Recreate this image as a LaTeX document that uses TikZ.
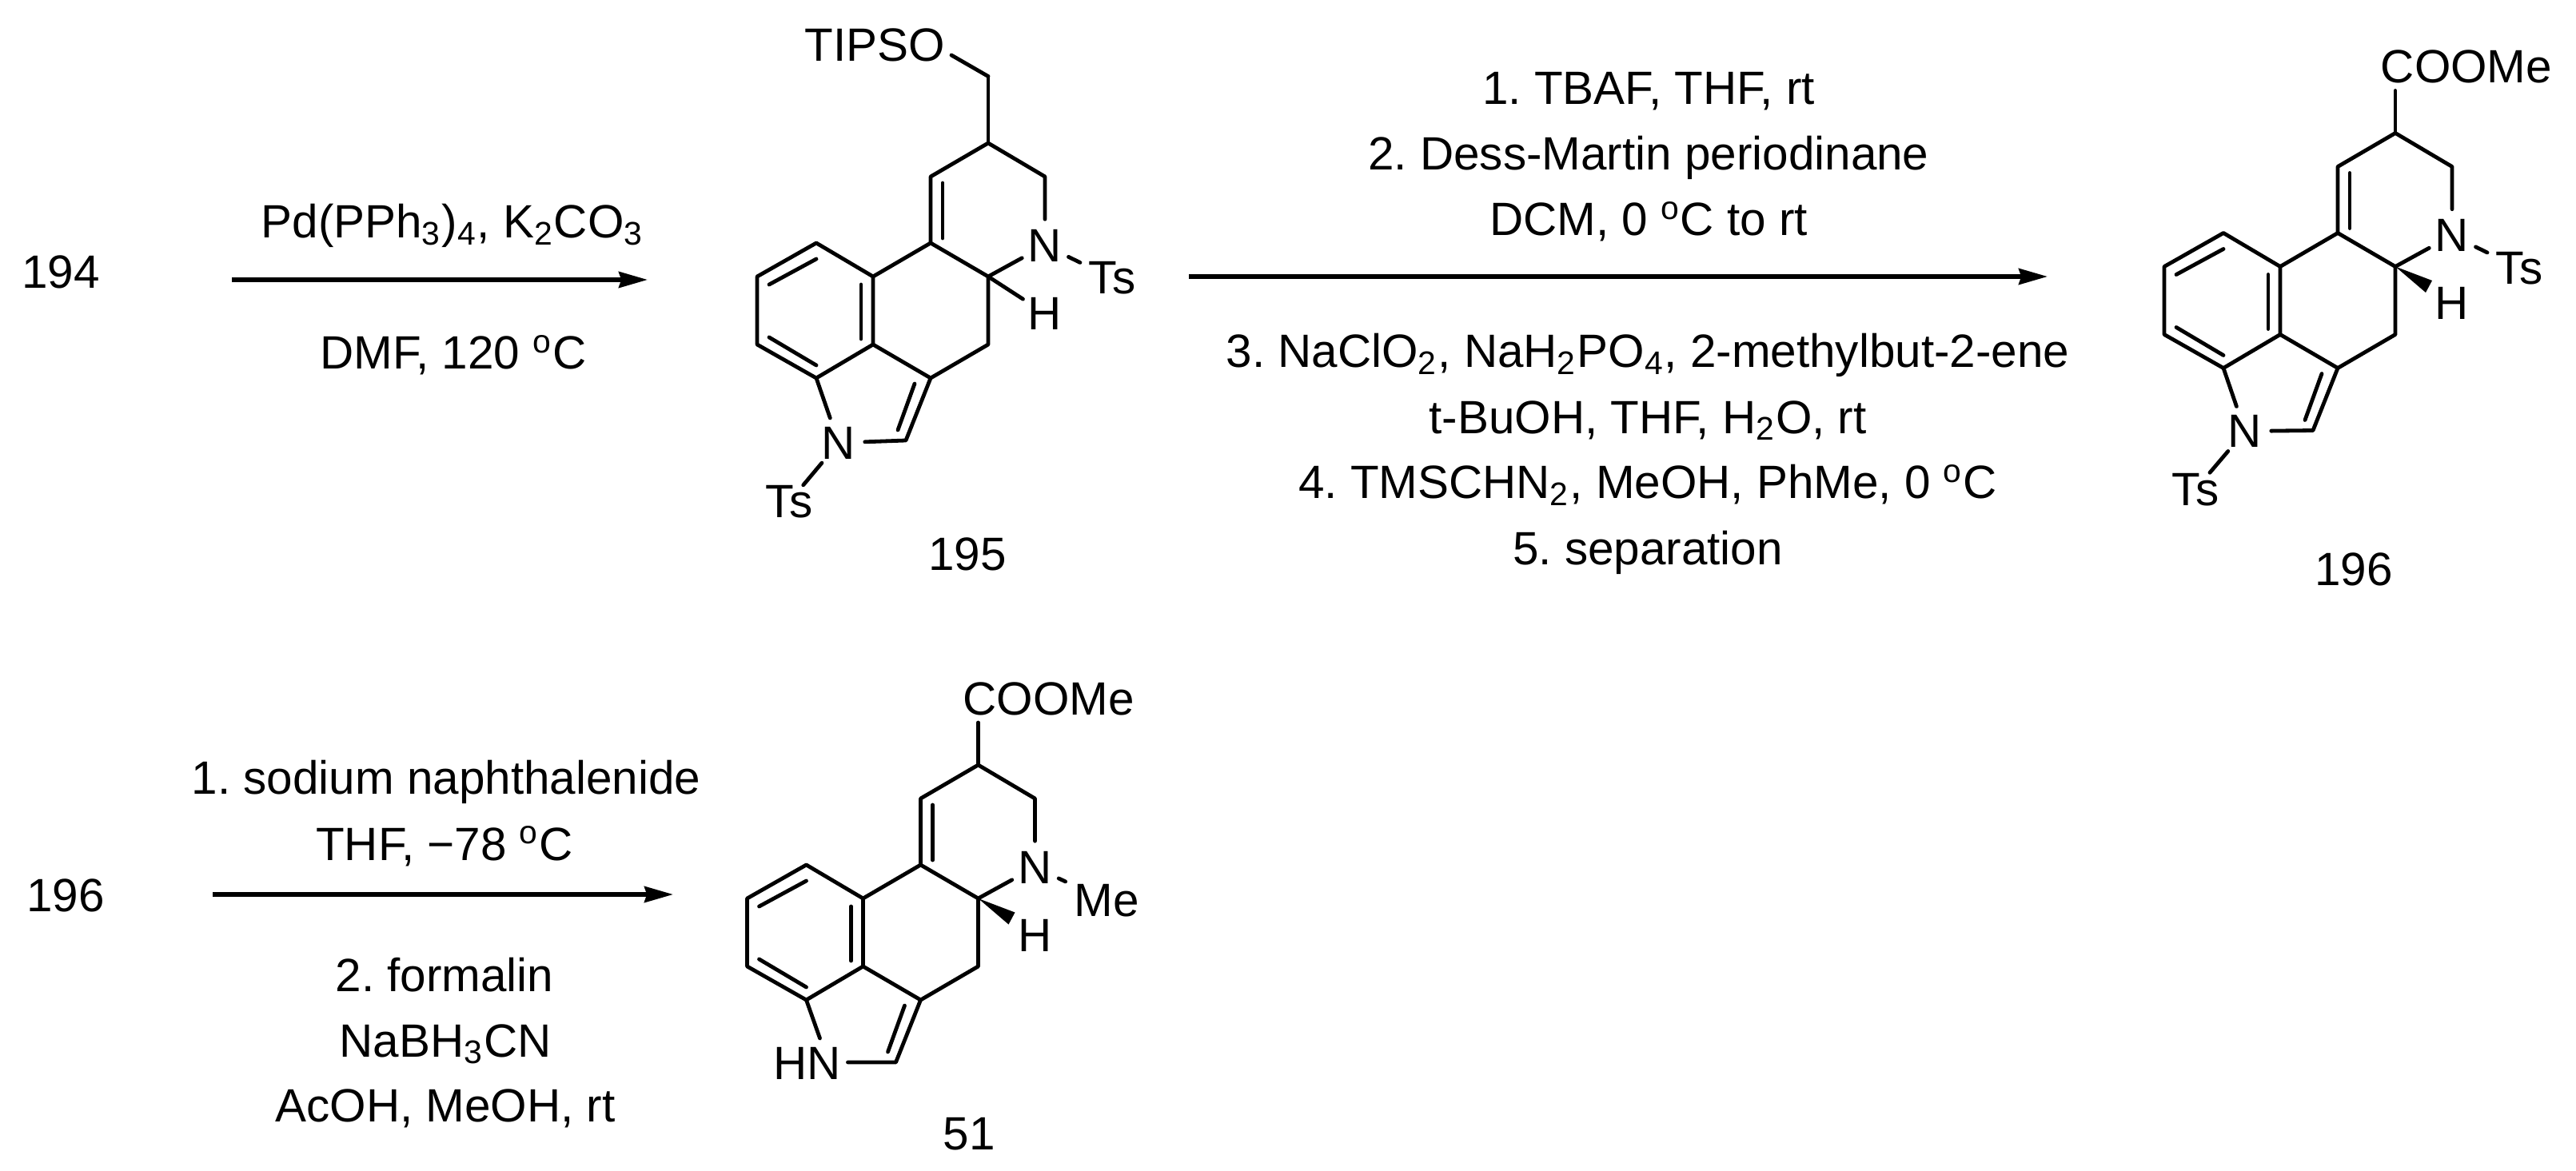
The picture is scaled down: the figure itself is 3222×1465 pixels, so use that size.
\documentclass[tikz,border=0pt]{standalone}
\usepackage{fontspec}
\setmainfont{Liberation Sans}
\usetikzlibrary{arrows.meta}
\newcommand{\sbs}[1]{\textsubscript{#1}}
\newcommand{\dg}{\textsuperscript{o}}
\newcommand{\chem}{\fontsize{14.6}{17}\selectfont\frenchspacing}
\tikzset{
  x=.25pt,y=-.25pt,
  bond/.style={line width=1.2pt,line cap=round,line join=round},
  atom/.style={circle,inner sep=0pt,minimum size=16pt,font=\chem},
  lab/.style={inner sep=0pt,font=\chem},
  txt/.style={inner sep=0pt,font=\chem,anchor=base},
  ts/.style={inner sep=2.5pt,font=\chem},
  rxn/.style={line width=1.3pt,-{Stealth[length=9pt,width=5pt,inset=.8pt]}},
}
% #1 prefix
\newcommand{\skel}[1]{%
  \coordinate (#1k) at (0,0);
  \coordinate (#1g) at (-72,-42);
  \coordinate (#1h) at (-72,-125);
  \coordinate (#1i) at (0,-167);
  \coordinate (#1j) at (71,-125);
  \node[atom] (#1N) at (71,-39) {N};
  \coordinate (#1l) at (0,85);
  \coordinate (#1m) at (-72,127);
  \coordinate (#1f) at (-144,0);
  \coordinate (#1e) at (-144,85);
  \coordinate (#1a) at (-215,-42);
  \coordinate (#1b) at (-289,0);
  \coordinate (#1c) at (-289,85);
  \coordinate (#1d) at (-215,127);
  \coordinate (#1n) at (-103,205);
  \coordinate (#1p1) at (-215,-22);
  \coordinate (#1p2) at (-274,10);
  \coordinate (#1q1) at (-215,111);
  \coordinate (#1q2) at (-274,76);
  \coordinate (#1r1) at (-159,10);
  \coordinate (#1r2) at (-159,78);
  \coordinate (#1s1) at (-57,-48);
  \coordinate (#1s2) at (-57,-117);
  \coordinate (#1t1) at (-92,134);
  \coordinate (#1t2) at (-113,192);
  \coordinate (#1w1) at (46,17.5);
  \coordinate (#1w2) at (38,32.5);
  \node[atom] (#1H) at (71,46) {H};
}
% #1 prefix, #2 end of the bond from d, #3 end of the bond from n
\newcommand{\skelbonds}[3]{%
  \draw[bond] (#1a)--(#1b)--(#1c)--(#1d)--(#1e)--(#1f)--cycle;
  \draw[bond] (#1f)--(#1g)--(#1h)--(#1i)--(#1j)--(#1N);
  \draw[bond] (#1g)--(#1k)--(#1l)--(#1m)--(#1n)--(#3);
  \draw[bond] (#1e)--(#1m);
  \draw[bond] (#1d)--(#2);
  \draw[bond] (#1k)--(#1N);
  \draw[bond] (#1p1)--(#1p2);
  \draw[bond] (#1q1)--(#1q2);
  \draw[bond] (#1r1)--(#1r2);
  \draw[bond] (#1s1)--(#1s2);
  \draw[bond] (#1t1)--(#1t2);
}
\begin{document}
\begin{tikzpicture}
\useasboundingbox (0,0) rectangle (3222,1465);
% first row
\node[txt] (n194) at (76,361) {194};
\coordinate (a1s) at (290,350);
\coordinate (a1e) at (810,350);
\draw[rxn] (a1s)--(a1e);
\node[txt] (c1a) at (566,298) {Pd(PPh\sbs{3})\sbs{4}, K\sbs{2}CO\sbs{3}};
\node[txt] (c1b) at (567,462) {DMF, 120 \dg C};
% 195
\begin{scope}[shift={(1236,346)}]
  \skel{A}
  \node[atom] (AN1) at (-187,208) {N};
  \node[lab] (ATs2) at (-249,282) {Ts};
  \node[ts] (ATs) at (155,2) {Ts};
  \coordinate (Ach) at (0,-250.5);
  \node[lab,anchor=east] (AO) at (-53,-290) {TIPSO};
  \skelbonds{A}{AN1}{AN1}
  \draw[bond] (AN1)--(ATs2);
  \draw[bond] (AN)--(ATs);
  \draw[bond] (Ak)--(AH);
  \draw[bond] (Ai)--(Ach);
  \coordinate (Aoo) at (-46,-277);
  \draw[bond] (Ach)--(Aoo);
\end{scope}
\node[txt] (n195) at (1210,713) {195};
\coordinate (a2s) at (1487,346);
\coordinate (a2e) at (2561,346);
\draw[rxn] (a2s)--(a2e);
\node[txt] (t1) at (2062,131) {1. TBAF, THF, rt};
\node[txt] (t2) at (2062,213) {2. Dess-Martin periodinane};
\node[txt] (t3) at (2062,295) {DCM, 0 \dg C to rt};
\node[txt] (t4) at (2061,460) {3. NaClO\sbs{2}, NaH\sbs{2}PO\sbs{4}, 2-methylbut-2-ene};
\node[txt] (t5) at (2061,542) {t-BuOH, THF, H\sbs{2}O, rt};
\node[txt] (t6) at (2061,624) {4. TMSCHN\sbs{2}, MeOH, PhMe, 0 \dg C};
\node[txt] (t7) at (2061,706) {5. separation};
% 196
\begin{scope}[shift={(2996,333.5)}]
  \skel{B}
  \node[atom] (BN1) at (-188,206) {N};
  \node[lab] (BTs2) at (-250,279) {Ts};
  \node[ts] (BTs) at (155,2) {Ts};
  \node[lab,anchor=west] (BC) at (-19,-250) {COOMe};
  \coordinate (Bco) at (0,-220);
  \skelbonds{B}{BN1}{BN1}
  \draw[bond] (BN1)--(BTs2);
  \draw[bond] (BN)--(BTs);
  \draw[bond] (Bi)--(Bco);
  \fill (Bk)--(Bw1)--(Bw2)--cycle;
\end{scope}
\node[txt] (n196) at (2944,732) {196};
% second row
\node[txt] (n196b) at (82,1140) {196};
\coordinate (a3s) at (266,1119);
\coordinate (a3e) at (842,1119);
\draw[rxn] (a3s)--(a3e);
\node[txt] (d1) at (558,993) {1. sodium naphthalenide};
\node[txt] (d2) at (556,1076) {THF, \textminus78 \dg C};
\node[txt] (d3) at (556,1240) {2. formalin};
\node[txt] (d4) at (557,1322) {NaBH\sbs{3}CN};
\node[txt] (d5) at (557,1403) {AcOH, MeOH, rt};
% 51
\begin{scope}[shift={(1223.5,1124)}]
  \skel{C}
  \node[lab,anchor=east] (CN1) at (-171,206) {HN};
  \node[ts] (CMe) at (160.5,3) {Me};
  \node[lab,anchor=west] (CC) at (-19.5,-250) {COOMe};
  \coordinate (Cco) at (0,-220);
  \coordinate (Cnn) at (-163,205);
  \coordinate (Cdd) at (-198,175);
  \skelbonds{C}{Cdd}{Cnn}
  \draw[bond] (CN)--(CMe);
  \draw[bond] (Ci)--(Cco);
  \fill (Ck)--(Cw1)--(Cw2)--cycle;
\end{scope}
\node[txt] (n51) at (1212,1438) {51};
\end{tikzpicture}
\end{document}
